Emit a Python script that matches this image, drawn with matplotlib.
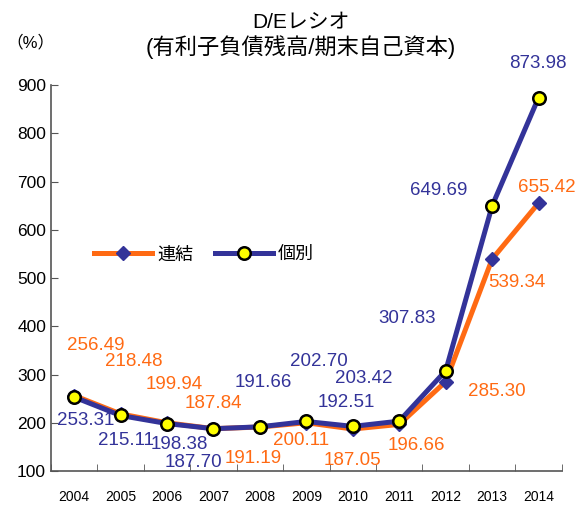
import matplotlib
matplotlib.use("Agg")
import matplotlib.pyplot as plt
import numpy as np

plt.rcParams['font.family'] = ['Liberation Sans', 'Noto Sans CJK JP', 'DejaVu Sans']

years = ['2004', '2005', '2006', '2007', '2008', '2009', '2010', '2011', '2012', '2013', '2014']
consolidated = [256.49, 218.48, 199.94, 187.84, 191.19, 200.11, 187.05, 196.66, 285.30, 539.34, 655.42]
standalone = [253.31, 215.11, 198.38, 187.70, 191.66, 202.70, 192.51, 203.42, 307.83, 649.69, 873.98]

# label offsets in pixels (dx, dy) from each point
cons_off = [(22, 50), (13, 52), (7, 38), (0, 25), (-7, -31), (-5, -18), (0, -31), (17, -21), (51, -10), (25, -23), (8, 16)]
stand_off = [(12, -23), (5, -25), (12, -21), (-20, -34), (3, 44), (13, 60), (-6, 24), (-35, 43), (-39, 52), (-53, 15), (-1, 34)]

orange = '#FF6A13'
blue = '#333399'

fig = plt.figure(figsize=(5.78, 5.12), dpi=100)
ax = fig.add_axes([0.088, 0.080, 0.884, 0.754])

x = np.arange(len(years))
ax.plot(x, consolidated, color=orange, lw=3.6, marker='D', ms=7.5,
        mfc=blue, mec=blue, label='連結', zorder=3)
ax.plot(x, standalone, color=blue, lw=3.6, marker='o', ms=9,
        mfc='#FFFF00', mec='black', mew=1.8, label='個別', zorder=4)

for i in range(len(years)):
    ax.annotate(f'{consolidated[i]:.2f}', (x[i], consolidated[i]), xytext=cons_off[i],
                textcoords='offset pixels', ha='center', va='center', color=orange, fontsize=13.5)
    ax.annotate(f'{standalone[i]:.2f}', (x[i], standalone[i]), xytext=stand_off[i],
                textcoords='offset pixels', ha='center', va='center', color=blue, fontsize=13.5)

ax.set_xlim(-0.5, len(years) - 0.5)
ax.set_ylim(100, 900)
ax.set_yticks(range(100, 901, 100))
ax.set_xticks(x)
ax.set_xticklabels(years, fontsize=10)
ax.set_xticks(np.arange(-0.5, len(years)), minor=True)
ax.tick_params(axis='x', which='major', length=0, pad=14)
ax.tick_params(axis='x', which='minor', direction='in', length=5, color='#555555')
ax.tick_params(axis='y', direction='in', length=5, labelsize=12.5, color='#555555')
for s in ['top', 'right']:
    ax.spines[s].set_visible(False)
for s in ['left', 'bottom']:
    ax.spines[s].set_color('#555555')
    ax.spines[s].set_linewidth(1.2)

ax.legend(loc='center', bbox_to_anchor=(0.30, 0.56), ncol=2, frameon=False,
          fontsize=13, handlelength=3.2, columnspacing=1.2, handletextpad=0.3)

fig.text(0.52, 0.958, 'D/Eレシオ', ha='center', va='center', fontsize=15)
fig.text(0.52, 0.908, '(有利子負債残高/期末自己資本)', ha='center', va='center', fontsize=16)
fig.text(0.052, 0.918, '（%）', ha='center', va='center', fontsize=12)

fig.savefig('out.png', dpi=100)
